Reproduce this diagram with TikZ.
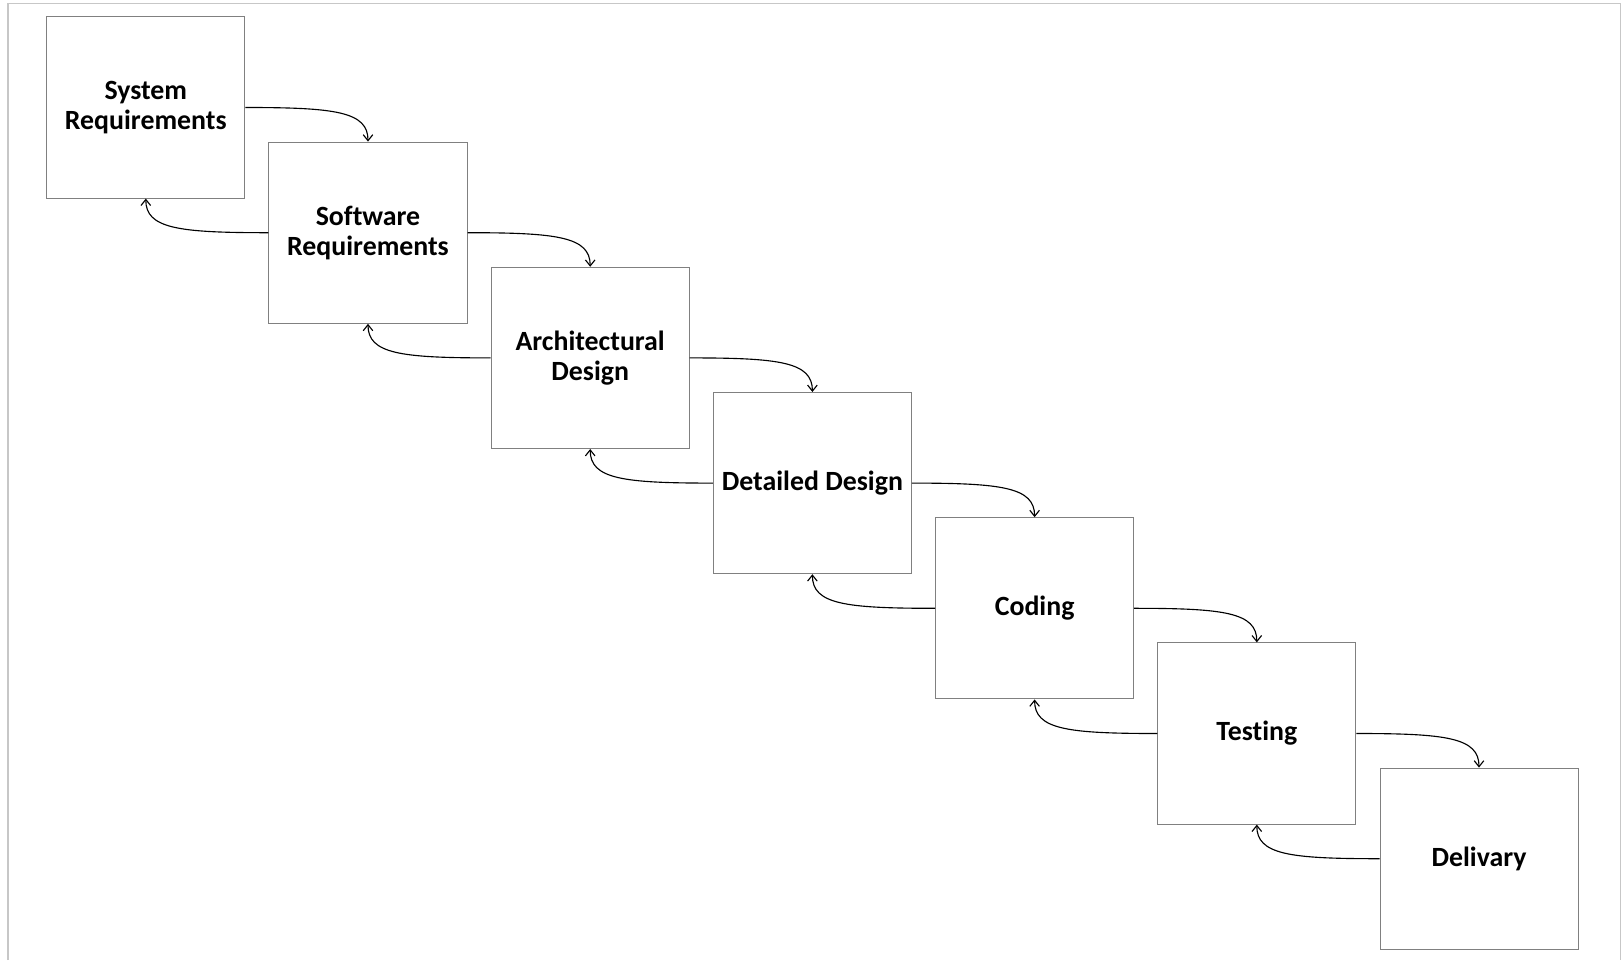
\documentclass[tikz,border=0pt]{standalone}
\usepackage{fontspec}
\setmainfont{Carlito}[Ligatures=NoCommon]
\usepackage{tikz}
\usetikzlibrary{arrows.meta}
\definecolor{boxgray}{rgb}{0.5,0.5,0.5}
\definecolor{framegray}{rgb}{0.78,0.78,0.78}

\begin{document}
\begin{tikzpicture}[x=0.025cm, y=0.025cm,
    phase/.style={draw=boxgray, line width=0.7pt, minimum width=4.95cm, minimum height=4.53cm,
        inner sep=0pt, align=center, font=\fontsize{19.8}{21.5}\selectfont\bfseries},
    flow/.style={line width=0.8pt, -{Straight Barb[length=1.5mm,width=2.4mm]}}]
    \useasboundingbox (0,0) rectangle (1623,-960);
    \draw[framegray, line width=1pt] (8,-960) -- (8,-3.3) -- (1620.7,-3.3) -- (1620.7,-960);

    % PHASES OF THE WATERFALL
    \foreach \i/\m in {
        0/{System\\Requirements},
        1/{Software\\Requirements},
        2/{Architectural\\Design},
        3/{Detailed Design},
        4/{Coding},
        5/{Testing},
        6/{Delivary}}
        \node[phase] (p\i) at (145.8 + 222.2*\i, -107.5 - 125.2*\i) {\m};

    % FORWARD AND BACK ARROWS
    \foreach \a/\b in {0/1, 1/2, 2/3, 3/4, 4/5, 5/6} {
        \draw[flow] (p\a.east) .. controls +(90,0) and +(0,30) .. (p\b.north);
        \draw[flow] (p\b.west) .. controls +(-90,0) and +(0,-30) .. (p\a.south);
    }
\end{tikzpicture}
\end{document}
